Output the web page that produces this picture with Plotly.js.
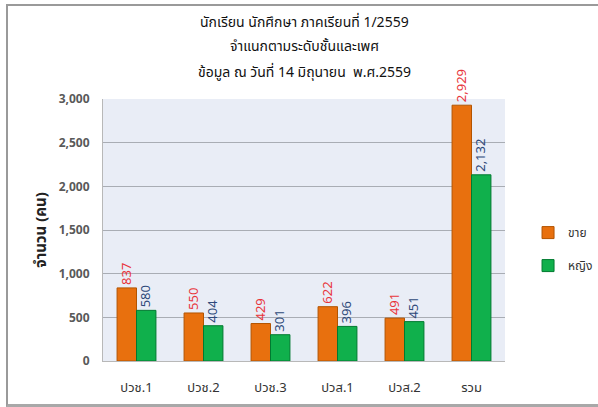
<!DOCTYPE html>
<html><head><meta charset="utf-8">
<script src="https://cdn.plot.ly/plotly-3.0.1.min.js"></script>
<style>
html,body{margin:0;padding:0;background:#fff;}
#wrap{position:relative;width:598px;height:407px;overflow:hidden;}
#chart{width:598px;height:407px;}
#frame{position:absolute;left:6px;top:4px;width:600px;height:398px;border-left:2px solid #9a9a9a;border-top:2px solid #9a9a9a;border-bottom:3px solid #a8a8a8;pointer-events:none;}
</style></head>
<body><div id="wrap"><div id="chart"></div><div id="frame"></div></div>
<script>
const categories = ['ปวช.1','ปวช.2','ปวช.3','ปวส.1','ปวส.2','รวม'];
const male = [837, 550, 429, 622, 491, 2929];
const female = [580, 404, 301, 396, 451, 2132];
const seriesNames = ['ขาย','หญิง'];
const yTicks = [0, 500, 1000, 1500, 2000, 2500, 3000];
const titleLines = ['นักเรียน นักศึกษา ภาคเรียนที่ 1/2559', 'จำแนกตามระดับชั้นและเพศ', 'ข้อมูล ณ วันที่ 14 มิถุนายน  พ.ศ.2559'];

const fmt = v => v.toLocaleString('en-US');
const FONT = 'Tahoma, "Noto Sans Thai", "Noto Sans", sans-serif';

const traces = [
  {type:'bar', name:seriesNames[0], legendgroup:'m', x:categories, y:male,
   marker:{color:'#e8700e', line:{color:'#b35400', width:1}},
   text:male.map(fmt), textposition:'outside', textangle:-90, constraintext:'none',
   textfont:{color:'#e8353b', size:13, family:FONT}, cliponaxis:false},
  {type:'bar', name:seriesNames[1], legendgroup:'f', x:categories, y:female,
   marker:{color:'#10b04c', line:{color:'#007a30', width:1}},
   text:female.map(fmt), textposition:'outside', textangle:-90, constraintext:'none',
   textfont:{color:'#2e4a7a', size:13, family:FONT}, cliponaxis:false}
];

const titleY = [22, 47, 72];
const annotations = titleLines.map((t, i) => ({
  text: t, xref:'paper', yref:'paper', x:0.5, xanchor:'center',
  y: 1 + (99 - titleY[i]) / 262, yanchor:'middle', showarrow:false,
  font:{size:14, color:'#111', family:FONT}
}));

const layout = {
  width:598, height:407,
  margin:{l:103, r:93, t:99, b:46, autoexpand:false},
  paper_bgcolor:'#ffffff', plot_bgcolor:'#e9edf6',
  font:{family:FONT, color:'#404040'},
  barmode:'group', bargap:0.42, bargroupgap:0,
  annotations: annotations,
  xaxis:{type:'category', tickfont:{size:13, color:'#333', family:FONT},
         ticks:'outside', ticklen:14, tickcolor:'rgba(0,0,0,0)',
         showline:true, linecolor:'#b8b8b8', linewidth:1},
  yaxis:{range:[0,3000], tickvals:yTicks, ticktext:yTicks.map(fmt),
         tickfont:{size:12, color:'#595959', family:FONT, weight:'bold'},
         ticks:'outside', ticklen:10, tickcolor:'rgba(0,0,0,0)',
         showgrid:true, gridcolor:'#a9adb4', gridwidth:1, zeroline:false,
         showline:true, linecolor:'#b8b8b8',
         title:{text:'จำนวน (คน)', standoff:8, font:{size:15, color:'#222', family:FONT, weight:'bold'}}},
  legend:{xref:'container', yref:'container', x:0.883, xanchor:'left', y:0.388, yanchor:'middle',
          font:{size:12, color:'#333', family:FONT},
          tracegroupgap:14, itemwidth:30, bgcolor:'rgba(0,0,0,0)'},
  showlegend:true
};

Plotly.newPlot('chart', traces, layout, {displayModeBar:false, staticPlot:true});
</script></body></html>
